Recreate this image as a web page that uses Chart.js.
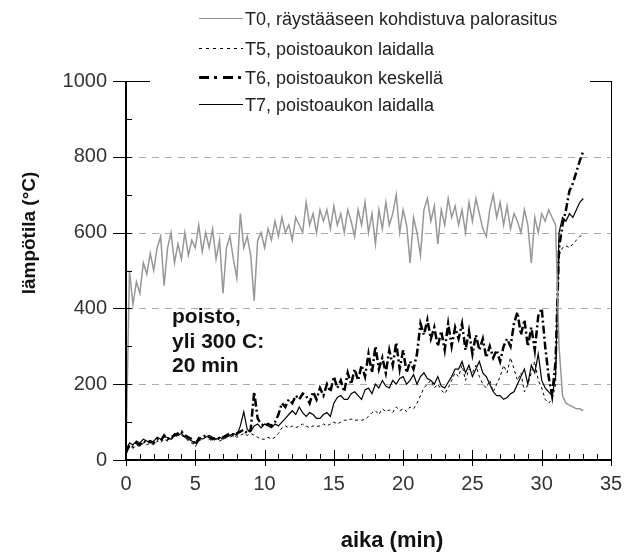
<!DOCTYPE html>
<html>
<head>
<meta charset="utf-8">
<script src="https://cdn.jsdelivr.net/npm/chart.js@4.4.1/dist/chart.umd.min.js"></script>
<style>
  html, body { margin: 0; padding: 0; background: #fff; }
  #wrap { width: 640px; height: 552px; }
</style>
</head>
<body>
<div id="wrap"><canvas id="tempChart" width="640" height="552"></canvas></div>
<script>
// series names as in the legend
const seriesNames = [
  'T0, räystääseen kohdistuva palorasitus',
  'T5, poistoaukon laidalla',
  'T6, poistoaukon keskellä',
  'T7, poistoaukon laidalla'
];

// readings every 15 s (0.25 min), from 0 to 33 min
const t0Values = [
  20, 500, 410, 470,   440, 520, 490, 545,   500, 560, 590, 460,   560, 600, 520, 570,
  530, 600, 540, 580,  560, 620, 550, 600,   560, 610, 530, 580,   440, 560, 590, 530,
  480, 650, 560, 590,  540, 420, 580, 600,   560, 610, 580, 630,   590, 640, 600, 620,
  580, 640, 620, 600,  680, 620, 650, 600,   660, 630, 660, 610,   670, 620, 650, 600,
  660, 630, 590, 660,  620, 680, 600, 650,   570, 660, 610, 680,   620, 650, 700, 600,
  660, 620, 520, 640,  600, 540, 660, 690,   630, 670, 570, 660,   620, 690, 640, 670,
  620, 660, 600, 680,  630, 690, 650, 610,   590, 660, 700, 640,   680, 620, 670, 610,
  650, 630, 600, 660,  620, 520, 640, 600,   650, 630, 660, 640,   620, 300, 170, 150,
  145, 140, 135, 135,  130
];

const t5Values = [
  15, 35, 30, 40,      35, 45, 40, 45,       40, 50, 45, 55,       50, 55, 60, 65,
  65, 60, 50, 45,      35, 50, 55, 60,       55, 50, 55, 50,       55, 60, 60, 65,
  60, 65, 70, 65,      70, 65, 60, 55,       55, 60, 55, 60,       70, 85, 90, 85,
  90, 85, 90, 95,      90, 85, 90, 88,       90, 95, 90, 95,       100, 95, 100, 105,
  105, 108, 104, 106,  105, 107, 115, 125,   130, 120, 135, 128,   132, 125, 140, 130,
  135, 128, 140, 135,  150, 170, 190, 200,   210, 190, 200, 185,   175, 190, 210, 230,
  220, 250, 210, 240,  230, 250, 220, 200,   190, 210, 180, 200,   220, 250, 230, 270,
  240, 210, 230, 180,  200, 230, 260, 210,   190, 160, 150, 160,   200, 540, 560, 565,
  560, 570, 580, 590,  595
];

const t6Values = [
  20, 40, 35, 45,      40, 50, 45, 50,       45, 55, 50, 65,       55, 60, 65, 70,
  75, 65, 60, 55,      40, 55, 60, 65,       60, 55, 60, 55,       60, 65, 70, 65,
  70, 75, 80, 70,      80, 180, 110, 95,     90, 95, 90, 100,      120, 150, 140, 160,
  150, 170, 160, 175,  170, 150, 180, 160,   190, 170, 200, 180,   220, 190, 210, 180,
  230, 200, 240, 210,  250, 220, 280, 230,   300, 240, 270, 230,   290, 250, 310, 240,
  290, 230, 260, 240,  280, 360, 330, 370,   320, 350, 300, 340,   290, 360, 300, 350,
  320, 360, 290, 340,  280, 330, 290, 320,   270, 300, 270, 290,   260, 300, 320, 300,
  360, 390, 330, 370,  300, 350, 290, 380,   400, 300, 220, 170,   260, 560, 620, 660,
  710, 730, 760, 790,  815
];

const t7Values = [
  25, 45, 40, 50,      45, 55, 50, 45,       50, 60, 55, 60,       60, 55, 70, 65,
  70, 60, 55, 50,      45, 60, 55, 60,       65, 60, 55, 60,       55, 60, 65, 70,
  65, 90, 127, 80,     75, 90, 95, 85,       95, 90, 85, 95,       90, 100, 110, 120,
  130, 120, 140, 125,  115, 125, 120, 110,   110, 120, 125, 115,   150, 165, 170, 160,
  160, 175, 180, 170,  160, 185, 190, 175,   200, 190, 210, 195,   190, 210, 200, 215,
  220, 200, 210, 225,  200, 220, 230, 215,   210, 200, 220, 195,   190, 205, 220, 240,
  240, 260, 230, 250,  220, 240, 260, 230,   220, 200, 180, 170,   170, 160, 165, 175,
  180, 200, 220, 240,  200, 250, 230, 280,   210, 190, 180, 170,   220, 600, 640, 630,
  650, 640, 660, 680,  690
];

const sampleStep = 0.25;
const minutes = t0Values.map((v, i) => i * sampleStep);

const xRange = [0, 35];
const yRange = [0, 1000];
const yGridValues = [200, 400, 600, 800];
const noteLines = ['poisto,', 'yli 300 C:', '20 min'];
const xTitle = 'aika (min)';
const yTitle = 'lämpötila (°C)';

const sans = "'Liberation Sans', Arial, sans-serif";

function toPoints(values) {
  return values.map((v, i) => ({ x: minutes[i], y: v }));
}

const legendStyles = [
  { dash: [], width: 1, color: '#8f8f8f' },
  { dash: [3, 4], width: 1, color: '#000' },
  { dash: [10, 5, 3, 6], width: 3, color: '#000' },
  { dash: [], width: 1, color: '#000' }
];

const framePlugin = {
  id: 'frame',
  beforeDatasetsDraw(chart) {
    const { ctx, chartArea: a, scales: { y } } = chart;
    ctx.save();
    ctx.strokeStyle = '#ababab';
    ctx.lineWidth = 1;
    ctx.setLineDash([7, 6]);
    yGridValues.forEach(v => {
      const py = Math.round(y.getPixelForValue(v)) + 0.5;
      ctx.beginPath();
      ctx.moveTo(a.left, py);
      ctx.lineTo(a.right, py);
      ctx.stroke();
    });
    ctx.restore();
  },
  afterDatasetsDraw(chart) {
    const { ctx, chartArea: a, scales: { x, y } } = chart;
    ctx.save();
    ctx.strokeStyle = '#000';
    ctx.lineWidth = 1;
    ctx.strokeRect(a.left + 0.5, a.top + 0.5, a.right - a.left, a.bottom - a.top);

    ctx.lineWidth = 2;
    ctx.beginPath();
    ctx.moveTo(a.left, a.top);
    ctx.lineTo(a.left, a.bottom);
    ctx.lineTo(a.right, a.bottom);
    ctx.stroke();

    ctx.lineWidth = 1;
    for (let m = xRange[0]; m <= xRange[1]; m++) {
      const px = Math.round(x.getPixelForValue(m)) + 0.5;
      const major = m % 5 === 0;
      ctx.beginPath();
      ctx.moveTo(px, major ? a.bottom - 10 : a.bottom - 6);
      ctx.lineTo(px, major ? a.bottom + 6 : a.bottom);
      ctx.stroke();
    }
    for (let v = yRange[0]; v <= yRange[1]; v += 100) {
      const py = Math.round(y.getPixelForValue(v)) + 0.5;
      const major = v % 200 === 0;
      ctx.beginPath();
      ctx.moveTo(major ? a.left - 13 : a.left, py);
      ctx.lineTo(a.left + 6, py);
      ctx.stroke();
    }
    ctx.restore();
  },
  afterDraw(chart) {
    const { ctx } = chart;
    ctx.save();

    // legend box sits over the top of the frame
    ctx.fillStyle = '#fff';
    ctx.fillRect(150, 0, 440, 124);
    const rows = [20, 50, 79, 106];
    ctx.font = '18px ' + sans;
    ctx.textBaseline = 'middle';
    ctx.textAlign = 'left';
    chart.data.datasets.forEach((ds, i) => {
      const st = legendStyles[i];
      ctx.strokeStyle = st.color;
      ctx.lineWidth = st.width;
      ctx.setLineDash(st.dash);
      ctx.beginPath();
      ctx.moveTo(199, rows[i] - 1.5);
      ctx.lineTo(243, rows[i] - 1.5);
      ctx.stroke();
      ctx.fillStyle = '#222';
      ctx.fillText(ds.label, 245, rows[i]);
    });
    ctx.setLineDash([]);

    // note inside the plot
    ctx.fillStyle = '#111';
    ctx.font = 'bold 21px ' + sans;
    ctx.textBaseline = 'alphabetic';
    noteLines.forEach((s, i) => ctx.fillText(s, 172, 323 + i * 24.5));

    // axis titles
    ctx.font = 'bold 22px ' + sans;
    ctx.textAlign = 'center';
    ctx.fillText(xTitle, 392, 547);
    ctx.translate(35, 233);
    ctx.rotate(-Math.PI / 2);
    ctx.font = 'bold 19px ' + sans;
    ctx.fillText(yTitle, 0, 0);
    ctx.restore();
  }
};

const tickFont = { family: sans, size: 20 };

new Chart(document.getElementById('tempChart'), {
  type: 'line',
  data: {
    datasets: [
      { label: seriesNames[0], data: toPoints(t0Values), borderColor: '#979797', borderWidth: 1.5 },
      { label: seriesNames[1], data: toPoints(t5Values), borderColor: '#000', borderWidth: 1, borderDash: [3, 3] },
      { label: seriesNames[2], data: toPoints(t6Values), borderColor: '#000', borderWidth: 2.5, borderDash: [8, 3, 2, 3] },
      { label: seriesNames[3], data: toPoints(t7Values), borderColor: '#000', borderWidth: 1.2 }
    ]
  },
  options: {
    responsive: false,
    animation: false,
    events: [],
    elements: { point: { radius: 0 }, line: { tension: 0, fill: false } },
    layout: { padding: { top: 81, right: 29, left: 0, bottom: 0 } },
    plugins: { legend: { display: false }, tooltip: { enabled: false } },
    scales: {
      x: {
        type: 'linear',
        min: xRange[0],
        max: xRange[1],
        grid: { display: false, drawTicks: false },
        border: { display: false },
        ticks: { stepSize: 5, padding: 12, color: '#333', font: tickFont, maxRotation: 0, callback: v => String(v) },
        afterFit: s => { s.height = 92; }
      },
      y: {
        min: yRange[0],
        max: yRange[1],
        grid: { display: false, drawTicks: false },
        border: { display: false },
        ticks: { stepSize: 200, padding: 19, color: '#333', font: tickFont, callback: v => String(v) },
        afterFit: s => { s.width = 126; }
      }
    }
  },
  plugins: [framePlugin]
});
</script>
</body>
</html>
